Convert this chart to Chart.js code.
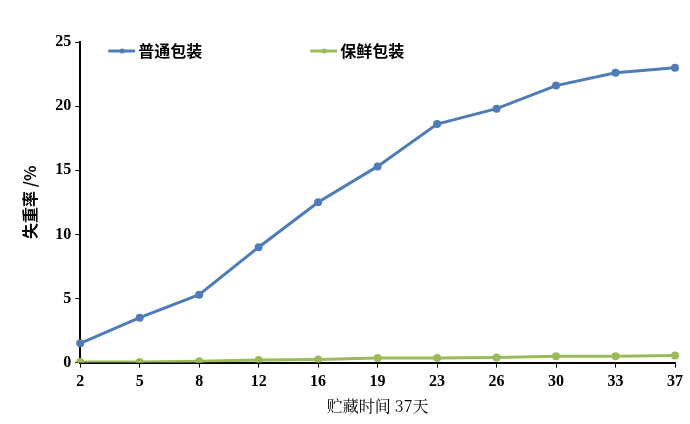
<!DOCTYPE html>
<html>
<head>
<meta charset="utf-8">
<script src="https://cdn.jsdelivr.net/npm/chart.js@4.4.0/dist/chart.umd.min.js"></script>
<style>
  html, body { margin: 0; padding: 0; background: #fff; }
  #wrap { width: 690px; height: 424px; }
</style>
</head>
<body>
<div id="wrap"><canvas id="myChart" width="690" height="424"></canvas></div>
<script>
// storage days
const days = ['2', '5', '8', '12', '16', '19', '23', '26', '30', '33', '37'];
// weight loss %
const normalPack = [1.5, 3.5, 5.3, 9.0, 12.5, 15.3, 18.6, 19.8, 21.6, 22.6, 23.0];
const freshPack = [0.05, 0.05, 0.1, 0.2, 0.25, 0.35, 0.35, 0.4, 0.5, 0.5, 0.55];
const seriesNames = ['普通包装', '保鲜包装'];
const yTicks = [0, 5, 10, 15, 20, 25];

const blue = '#4f7bb7';
const green = '#9bbb59';
const tickFont = { family: '"Liberation Serif", "Times New Roman", serif', size: 16, weight: 'bold' };

// legend drawn inside the plot, like the original
const innerLegend = {
    id: 'innerLegend',
    afterDraw(chart) {
        const ctx = chart.ctx;
        const area = chart.chartArea;
        const slots = [area.left + 28, area.left + 230];
        chart.data.datasets.forEach((ds, i) => {
            const x = slots[i];
            const y = area.top + 9;
            ctx.save();
            ctx.strokeStyle = ds.borderColor;
            ctx.lineWidth = 3;
            ctx.beginPath();
            ctx.moveTo(x, y);
            ctx.lineTo(x + 27, y);
            ctx.stroke();
            ctx.fillStyle = ds.borderColor;
            ctx.beginPath();
            ctx.arc(x + 14, y, 2.5, 0, Math.PI * 2);
            ctx.fill();
            ctx.fillStyle = '#000';
            ctx.font = 'bold 16px "Noto Sans CJK SC", sans-serif';
            ctx.textBaseline = 'middle';
            ctx.fillText(ds.label, x + 30, y);
            ctx.restore();
        });
    }
};

const ctx = document.getElementById('myChart');
const myChart = new Chart(ctx, {
    type: 'line',
    data: {
        labels: days,
        datasets: [
            {
                label: seriesNames[0],
                data: normalPack,
                borderColor: blue,
                backgroundColor: blue,
                borderWidth: 3,
                pointRadius: 2.5,
                pointHoverRadius: 2.5
            },
            {
                label: seriesNames[1],
                data: freshPack,
                borderColor: green,
                backgroundColor: green,
                borderWidth: 3,
                pointRadius: 2.5,
                pointHoverRadius: 2.5
            }
        ]
    },
    options: {
        responsive: false,
        animation: false,
        layout: { padding: { left: 20, right: 15, top: 42, bottom: 8 } },
        plugins: {
            legend: { display: false },
            tooltip: { enabled: false }
        },
        scales: {
            x: {
                offset: false,
                grid: { drawOnChartArea: false, drawTicks: true, tickLength: 5, color: '#000', lineWidth: 1 },
                border: { color: '#000', width: 2 },
                ticks: { color: '#000', font: tickFont, padding: 5, maxRotation: 0, autoSkip: false },
                title: {
                    display: true,
                    text: '贮藏时间 37天',
                    color: '#000',
                    font: { family: '"Noto Serif CJK SC", "Noto Sans CJK SC", serif', size: 16 },
                    padding: { top: 0, bottom: 0 }
                }
            },
            y: {
                min: 0,
                max: 25,
                afterBuildTicks: (axis) => { axis.ticks = yTicks.map(v => ({ value: v })); },
                grid: { drawOnChartArea: false, drawTicks: true, tickLength: 5, color: '#000', lineWidth: 1 },
                border: { color: '#000', width: 2 },
                ticks: { color: '#000', font: tickFont, padding: 4 },
                title: {
                    display: true,
                    text: '失重率 /%',
                    color: '#000',
                    font: { family: '"Noto Sans CJK SC", sans-serif', size: 16, weight: 'bold' },
                    padding: { top: 0, bottom: 12 }
                }
            }
        }
    },
    plugins: [innerLegend]
});
</script>
</body>
</html>
